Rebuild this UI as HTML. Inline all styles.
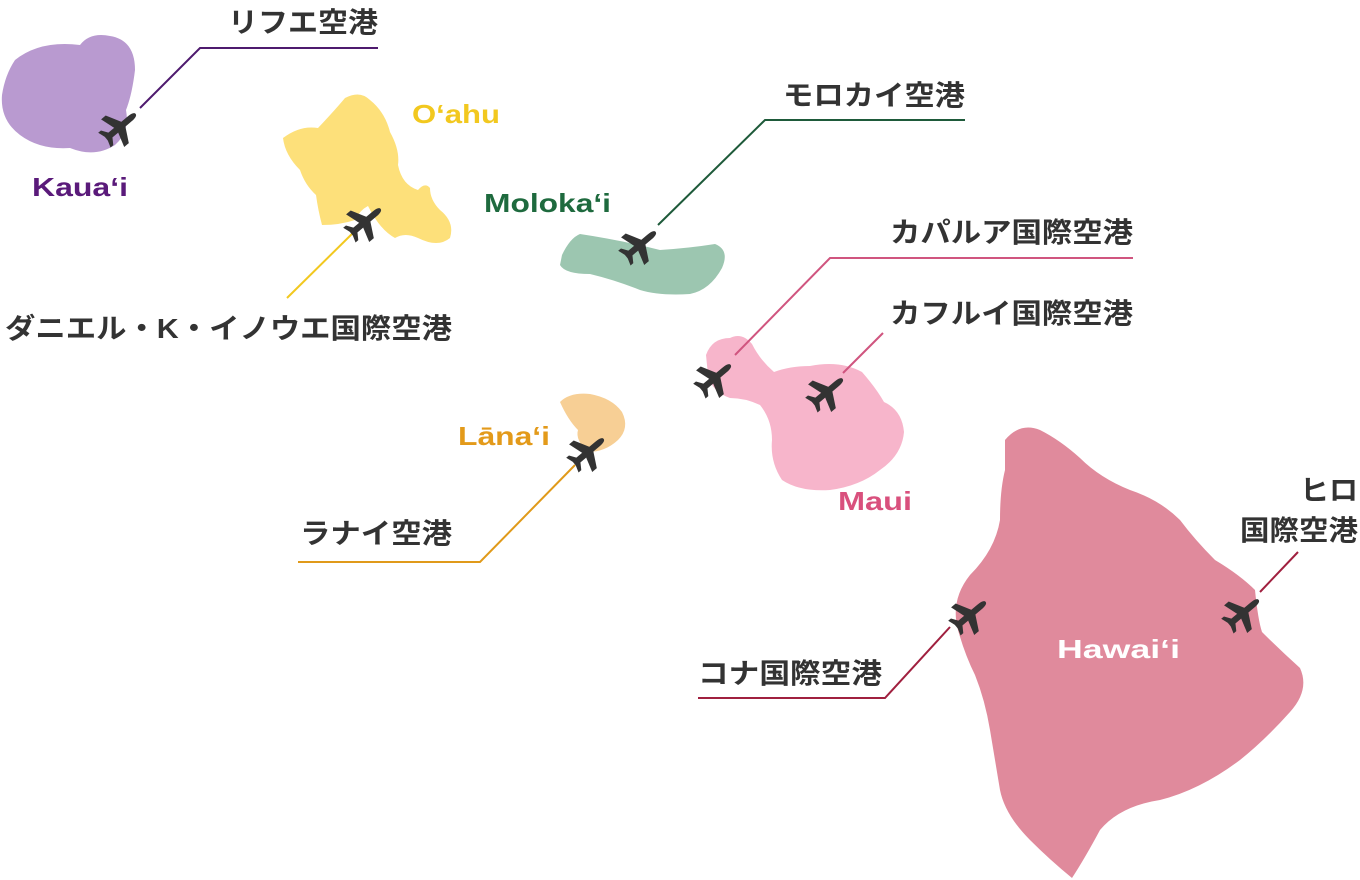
<!DOCTYPE html>
<html><head><meta charset="utf-8"><style>
html,body{margin:0;padding:0;background:#fff;width:1360px;height:880px;overflow:hidden}
svg text{font-family:"Liberation Sans","Noto Sans CJK JP",sans-serif;font-weight:bold}
</style></head><body>
<svg width="1360" height="880" viewBox="0 0 1360 880" xmlns="http://www.w3.org/2000/svg">
<defs>
<g id="pl" fill="#333" transform="scale(1.2)">
<path d="M-15,-2.6 L10,-2.6 Q17,-2.6 17,0 Q17,2.6 10,2.6 L-15,2.6 Z"/>
<path d="M4,-2 L-3,-15 L-8,-15 L-4,-2 Z"/>
<path d="M4,2 L-3,15 L-8,15 L-4,2 Z"/>
<path d="M-10,-2 L-14,-8 L-17,-8 L-15,-2 Z"/>
<path d="M-10,2 L-14,8 L-17,8 L-15,2 Z"/>
</g>
</defs>
<path fill="#b99ad0" d="M15,60 Q40,40 80,45 Q90,32 110,36 Q135,40 135,70 Q132,95 126,110 Q130,132 115,145 Q95,158 70,148 Q40,150 20,135 Q0,120 2,95 Q5,75 15,60 Z"/>
<path fill="#fde07a" d="M283,138 Q300,125 318,128 Q335,110 345,98 Q360,90 370,100 Q385,112 390,132 Q400,150 398,165 Q402,185 418,190 Q425,182 430,188 Q430,200 440,210 Q455,222 450,238 Q438,248 418,238 Q405,232 395,238 Q380,230 368,206 Q360,210 355,220 Q340,225 322,225 Q318,210 316,195 Q305,185 300,170 Q285,155 283,138 Z"/>
<path fill="#9cc6b0" d="M562,255 Q570,238 580,234 Q620,240 660,250 Q690,248 715,244 Q730,250 722,268 Q710,290 690,294 Q660,296 640,290 Q615,280 590,274 Q565,274 560,265 Z"/>
<path fill="#f7cf95" d="M560,402 Q570,392 590,394 Q612,398 622,412 Q630,428 618,440 Q605,452 588,452 Q575,440 578,430 Q568,420 560,402 Z"/>
<path fill="#f7b5cb" d="M706,355 Q712,338 730,338 Q742,332 752,344 Q760,360 774,372 Q790,366 810,366 Q840,360 862,372 Q876,388 884,402 Q902,410 904,432 Q902,455 880,470 Q860,486 830,490 Q800,492 782,480 Q770,462 772,440 Q772,420 760,405 Q745,398 730,398 Q712,392 708,375 Z"/>
<path fill="#e08a9c" d="M1005,440 Q1020,422 1040,430 Q1060,440 1080,458 Q1100,478 1130,490 Q1160,500 1180,520 Q1195,540 1215,560 Q1240,575 1255,590 Q1258,620 1262,632 Q1280,650 1300,668 Q1310,690 1290,712 Q1265,740 1240,760 Q1200,790 1160,800 Q1120,806 1100,830 Q1085,858 1072,878 Q1050,860 1030,840 Q1005,815 1000,790 Q995,760 990,730 Q985,700 975,675 Q965,655 958,630 Q950,600 970,575 Q995,550 1000,520 Q1000,490 1005,470 Z"/>
<g fill="none" stroke-width="2">
<polyline stroke="#4e1a6e" points="378,48 200,48 140,108"/>
<polyline stroke="#f2c81f" points="358,228 287,298"/>
<polyline stroke="#1e5a3a" points="658,225 765,120 965,120"/>
<polyline stroke="#d0557f" points="1133,258 830,258 735,355"/>
<polyline stroke="#d0557f" points="883,333 843,373"/>
<polyline stroke="#e09a1a" points="575,465 480,562 298,562"/>
<polyline stroke="#a0203f" points="1298,552 1260,592"/>
<polyline stroke="#a0203f" points="698,698 885,698 950,627"/>
</g>
<use href="#pl" transform="translate(120,127) rotate(-40)"/>
<use href="#pl" transform="translate(365,222) rotate(-40)"/>
<use href="#pl" transform="translate(640,245) rotate(-40)"/>
<use href="#pl" transform="translate(715,378) rotate(-40)"/>
<use href="#pl" transform="translate(827,392) rotate(-40)"/>
<use href="#pl" transform="translate(588,452) rotate(-40)"/>
<use href="#pl" transform="translate(970,615) rotate(-40)"/>
<use href="#pl" transform="translate(1243,613) rotate(-40)"/>
<g font-size="26">
<text x="32" y="196" fill="#5a1a7a" textLength="96" lengthAdjust="spacingAndGlyphs">Kaua‘i</text>
<text x="412" y="123" fill="#f2c81f" textLength="88" lengthAdjust="spacingAndGlyphs">O‘ahu</text>
<text x="484" y="212" fill="#1e6a3e" textLength="127" lengthAdjust="spacingAndGlyphs">Moloka‘i</text>
<text x="458" y="445" fill="#e39a1a" textLength="92" lengthAdjust="spacingAndGlyphs">Lāna‘i</text>
<text x="838" y="510" fill="#d9507d" textLength="74" lengthAdjust="spacingAndGlyphs">Maui</text>
<text x="1057" y="658" fill="#fff" textLength="123" lengthAdjust="spacingAndGlyphs">Hawai‘i</text>
</g>
<g font-size="28" fill="#333">
<text x="228" y="32" textLength="150" lengthAdjust="spacingAndGlyphs">リフエ空港</text>
<text x="783" y="105" textLength="182" lengthAdjust="spacingAndGlyphs">モロカイ空港</text>
<text x="890" y="242" textLength="243" lengthAdjust="spacingAndGlyphs">カパルア国際空港</text>
<text x="890" y="323" textLength="243" lengthAdjust="spacingAndGlyphs">カフルイ国際空港</text>
<text x="5" y="338" textLength="447" lengthAdjust="spacingAndGlyphs">ダニエル・K・イノウエ国際空港</text>
<text x="300" y="543" textLength="152" lengthAdjust="spacingAndGlyphs">ラナイ空港</text>
<text x="1300" y="500" textLength="58" lengthAdjust="spacingAndGlyphs">ヒロ</text>
<text x="1240" y="540" textLength="118" lengthAdjust="spacingAndGlyphs">国際空港</text>
<text x="698" y="683" textLength="184" lengthAdjust="spacingAndGlyphs">コナ国際空港</text>
</g>
</svg>
</body></html>
